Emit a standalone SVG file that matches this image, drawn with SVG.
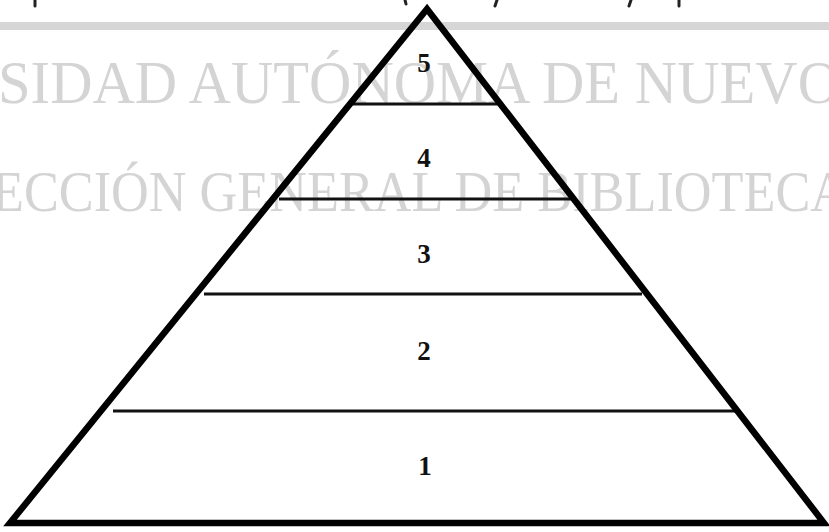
<svg xmlns="http://www.w3.org/2000/svg" width="829" height="532" viewBox="0 0 829 532">
<style>
.wm{font-family:"Liberation Serif","Times New Roman",serif;fill:#d4d4d4;}
.lbl{font-family:"Liberation Serif","Times New Roman",serif;font-weight:bold;font-size:27px;fill:#111;text-anchor:middle;}
.div{stroke:#111;stroke-width:3;fill:none;}
.edge{stroke:#000;stroke-width:6.5;fill:none;stroke-linejoin:miter;}
.tick{stroke:#222;stroke-width:3;stroke-linecap:round;fill:none;}
</style>
<rect width="829" height="532" fill="#fff"/>
<g id="background">
<rect x="0" y="22" width="829" height="8" fill="#d6d6d6"/>
<text class="wm" x="-2" y="103" font-size="62" textLength="842" lengthAdjust="spacingAndGlyphs">SIDAD AUTÓNOMA DE NUEVO</text>
<text class="wm" x="-8" y="211" font-size="58" textLength="856" lengthAdjust="spacingAndGlyphs">ECCIÓN GENERAL DE BIBLIOTECA</text>
<path class="tick" d="M35 0 L35 6 M405 0 L406 4 M497 0 L495 6 M631 0 L629 6 M679 0 L679 6"/>
</g>
<g id="connectors">
<line class="div" x1="353" y1="104" x2="498" y2="104"/>
<line class="div" x1="279" y1="199" x2="571" y2="199"/>
<line class="div" x1="204" y1="294" x2="642" y2="294"/>
<line class="div" x1="113" y1="411" x2="737" y2="411"/>
</g>
<g id="pyramid">
<path class="edge" d="M427 9 L10 523 L824 523 Z"/>
</g>
<g id="level5"><text class="lbl" x="424" y="72">5</text></g>
<g id="level4"><text class="lbl" x="424" y="167">4</text></g>
<g id="level3"><text class="lbl" x="424" y="263">3</text></g>
<g id="level2"><text class="lbl" x="424" y="360">2</text></g>
<g id="level1"><text class="lbl" x="425" y="475">1</text></g>
</svg>
